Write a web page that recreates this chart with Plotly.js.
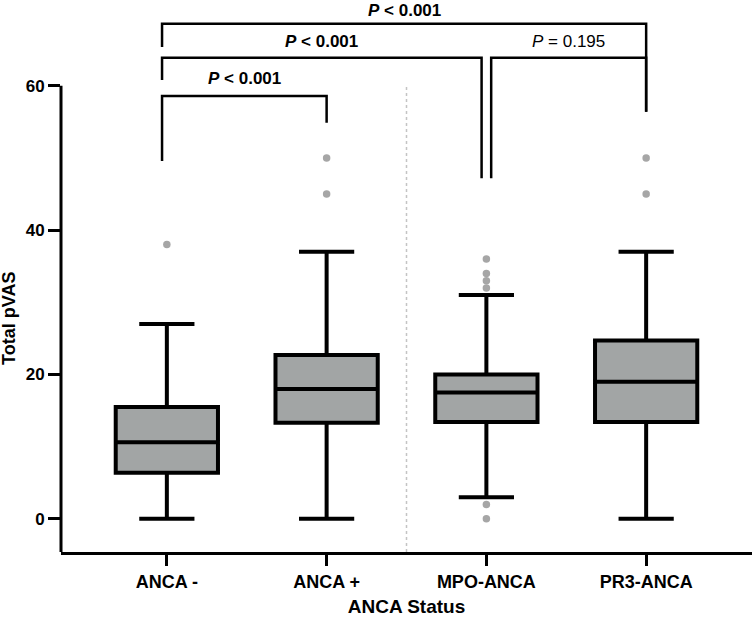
<!DOCTYPE html>
<html>
<head>
<meta charset="utf-8">
<script src="https://cdn.plot.ly/plotly-3.0.1.min.js"></script>
<style>
  html, body { margin: 0; padding: 0; background: #fff; }
  #chart { width: 752px; height: 617px; }
</style>
</head>
<body>
<div id="chart"></div>
<script>
// box statistics (Total pVAS)
const groups = ['ANCA -', 'ANCA +', 'MPO-ANCA', 'PR3-ANCA']
const lowerWhisker = [0, 0, 3, 0]
const q1 = [6.4, 13.3, 13.4, 13.4]
const median = [10.6, 18, 17.5, 19]
const q3 = [15.5, 22.7, 20, 24.7]
const upperWhisker = [27, 37, 31, 37]
const outliers = [[38], [45, 50], [0, 2, 32, 33, 34, 36], [45, 50]]

// pairwise comparisons (group indices) and their p values
const compFrom = [0, 0, 0, 2]
const compTo = [1, 2, 3, 3]
const compText = ['<b><i>P</i> &lt; 0.001</b>', '<b><i>P</i> &lt; 0.001</b>', '<b><i>P</i> &lt; 0.001</b>', '<i>P</i> = 0.195']

// drawing settings for the brackets
const bracketTop = [58.6, 63.9, 68.6, 63.9]
const dropFrom = [49.6, 60.8, 65.4, 47.2]
const dropTo = [54.9, 47.2, 56.4, 56.4]
const shiftFrom = [-0.03, -0.03, -0.03, 0.03]
const shiftTo = [0, -0.03, 0, 0]
const labelY = [61.0, 66.2, 71.9, 66.2]
const labelAnchor = ['middle', 'middle', 'top', 'middle']

const FONT = 'Liberation Sans, Arial, sans-serif'
const xs = groups.map((g, i) => i)

let traces = [{
  type: 'box',
  x: xs,
  q1: q1,
  median: median,
  q3: q3,
  lowerfence: lowerWhisker,
  upperfence: upperWhisker,
  width: 0.64,
  whiskerwidth: 0.54,
  boxpoints: false,
  fillcolor: '#a2a5a5',
  line: {color: '#000', width: 4},
  hoverinfo: 'skip'
}]

let ox = [], oy = []
for (let i = 0; i < groups.length; i++) {
  for (let v of outliers[i]) { ox.push(i); oy.push(v) }
}
traces.push({
  type: 'scatter', mode: 'markers', x: ox, y: oy,
  marker: {color: '#a6a6a6', size: 7.5},
  cliponaxis: false, hoverinfo: 'skip'
})

let shapes = [
  // y axis line (stops at 60)
  {type: 'line', xref: 'paper', yref: 'y', x0: 0, x1: 0, y0: -4.6, y1: 60,
   line: {color: '#000', width: 3}},
  // dotted separator between the two comparisons
  {type: 'line', xref: 'x', yref: 'y', x0: 1.5, x1: 1.5, y0: -4.6, y1: 60,
   line: {color: '#c4c4c4', width: 1.5, dash: 'dot'}}
]
let annotations = []
for (let k = 0; k < compFrom.length; k++) {
  let a = compFrom[k] + shiftFrom[k], b = compTo[k] + shiftTo[k]
  shapes.push({
    type: 'path', xref: 'x', yref: 'y',
    path: `M${a},${dropFrom[k]} L${a},${bracketTop[k]} L${b},${bracketTop[k]} L${b},${dropTo[k]}`,
    line: {color: '#000', width: 2.5}
  })
  annotations.push({
    xref: 'x', yref: 'y', x: (a + b) / 2, y: labelY[k],
    text: compText[k], showarrow: false, xanchor: 'center', yanchor: labelAnchor[k],
    borderpad: 0,
    font: {family: FONT, size: 17, color: '#000'}
  })
}
annotations.push({
  xref: 'paper', yref: 'y', x: 0, y: 27.7, xshift: -52, textangle: -90,
  text: '<b>Total pVAS</b>', showarrow: false, xanchor: 'center', yanchor: 'middle',
  font: {family: FONT, size: 18, color: '#000'}
})

Plotly.newPlot('chart', traces, {
  width: 752, height: 617,
  margin: {l: 61, r: 0, t: 0, b: 65},
  paper_bgcolor: '#fff', plot_bgcolor: '#fff',
  showlegend: false,
  font: {family: FONT, color: '#000'},
  xaxis: {
    range: [-0.6625, 3.6625],
    tickvals: xs, ticktext: groups,
    showgrid: false, zeroline: false,
    showline: true, linecolor: '#000', linewidth: 3,
    ticks: 'outside', ticklen: 11, tickwidth: 3, tickcolor: '#000',
    tickfont: {family: FONT, size: 18, weight: 'bold', color: '#000'},
    title: {text: 'ANCA Status', standoff: 13,
            font: {family: FONT, size: 19, weight: 'bold', color: '#000'}}
  },
  yaxis: {
    range: [-4.6, 71.9],
    tickvals: [0, 20, 40, 60],
    showgrid: false, zeroline: false, showline: false,
    ticks: 'outside', ticklen: 12, tickwidth: 3, tickcolor: '#000',
    tickfont: {family: FONT, size: 17, weight: 'bold', color: '#000'}
  },
  shapes: shapes,
  annotations: annotations
}, {staticPlot: true})
</script>
</body>
</html>
